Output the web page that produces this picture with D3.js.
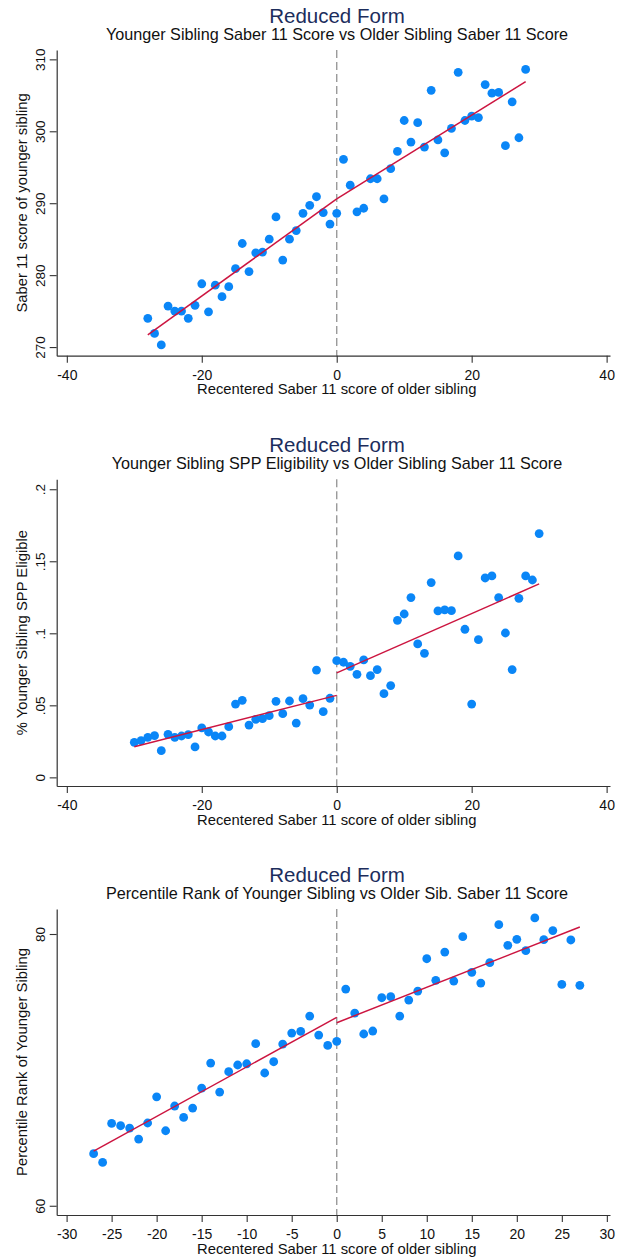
<!DOCTYPE html>
<html>
<head>
<meta charset="utf-8">
<script src="https://cdn.jsdelivr.net/npm/d3@7"></script>
<style>
  body { margin: 0; background: #fff; }
  svg { display: block; }
  text { font-family: Arial, "Liberation Sans", sans-serif; }
</style>
</head>
<body>
<svg id="chart" width="617" height="1258"></svg>
<script>
// ---- Panel 1: younger sibling Saber 11 score by recentered older-sibling score
const p1X = [-28,-27,-26,-25,-24,-23,-22,-21,-20,-19,-18,-17,-16,-15,-14,-13,-12,-11,-10,-9,-8,-7,-6,-5,-4,-3,-2,-1,
             0,1,2,3,4,5,6,7,8,9,10,11,12,13,14,15,16,17,18,19,20,21,22,23,24,25,26,27,28];
const p1Y = [274.0,271.9,270.3,275.7,275.0,275.0,274.0,275.8,278.8,274.9,278.6,277.0,278.4,280.9,284.4,280.5,283.1,283.2,285.0,288.1,282.1,285.0,286.2,288.6,289.7,290.9,288.7,287.1,
             288.6,296.1,292.5,288.8,289.3,293.4,293.4,290.6,294.8,297.2,301.5,298.5,301.2,297.8,305.7,298.8,297.0,300.4,308.2,301.5,302.1,301.9,306.5,305.3,305.4,298.0,304.1,299.1,308.6];
const p1FitLeft  = [[-28, 271.7], [0, 290.6]];
const p1FitRight = [[0, 290.6], [28, 306.9]];
const p1YTicks = [270, 280, 290, 300, 310];
const p1XTicks = [-40, -20, 0, 20, 40];

// ---- Panel 2: share of younger siblings eligible for SPP
const p2X = [-30,-29,-28,-27,-26,-25,-24,-23,-22,-21,-20,-19,-18,-17,-16,-15,-14,-13,-12,-11,-10,-9,-8,-7,-6,-5,-4,-3,-2,-1,
             0,1,2,3,4,5,6,7,8,9,10,11,12,13,14,15,16,17,18,19,20,21,22,23,24,25,26,27,28,29,30];
const p2Y = [0.0243,0.0255,0.0278,0.0289,0.0185,0.0299,0.0278,0.0287,0.0296,0.0211,0.0343,0.0315,0.0287,0.0287,0.0352,0.0509,0.0535,0.0363,0.0403,0.0407,0.0428,0.0528,0.0442,0.0530,0.0377,0.0546,0.0502,0.0745,0.0456,0.0549,
             0.0810,0.0799,0.0771,0.0715,0.0815,0.0706,0.0748,0.0581,0.0637,0.1090,0.1134,0.1248,0.0926,0.0861,0.1352,0.1155,0.1162,0.1157,0.1537,0.1028,0.0509,0.0956,0.1384,0.1398,0.1248,0.1002,0.0748,0.1243,0.1398,0.1370,0.1692];
const p2FitLeft  = [[-30, 0.0213], [0, 0.0569]];
const p2FitRight = [[0, 0.0725], [30, 0.1343]];
const p2YTicks = [0, 0.05, 0.1, 0.15, 0.2];
const p2XTicks = [-40, -20, 0, 20, 40];

// ---- Panel 3: percentile rank of younger sibling
const p3X = [-27,-26,-25,-24,-23,-22,-21,-20,-19,-18,-17,-16,-15,-14,-13,-12,-11,-10,-9,-8,-7,-6,-5,-4,-3,-2,-1,
             0,1,2,3,4,5,6,7,8,9,10,11,12,13,14,15,16,17,18,19,20,21,22,23,24,25,26,27];
const p3Y = [63.83,63.19,66.06,65.89,65.72,64.91,66.09,68.02,65.52,67.34,66.50,67.19,68.66,70.50,68.37,69.87,70.36,70.45,71.93,69.77,70.60,71.90,72.71,72.83,73.96,72.56,71.80,
             72.10,75.95,74.18,72.64,72.86,75.31,75.39,73.96,75.14,75.80,78.18,76.59,78.67,76.54,79.80,77.18,76.39,77.89,80.69,79.17,79.61,78.77,81.18,79.58,80.25,76.29,79.56,76.22];
const p3FitLeft  = [[-27, 64.02], [0, 73.87]];
const p3FitRight = [[0, 73.47], [27, 80.52]];
const p3YTicks = [60, 80];
const p3XTicks = [-30,-25,-20,-15,-10,-5,0,5,10,15,20,25,30];

const titleText = "Reduced Form";
const xTitle = "Recentered Saber 11 score of older sibling";

const panels = [
  { sub: "Younger Sibling Saber 11 Score vs Older Sibling Saber 11 Score",
    yTitle: "Saber 11 score of younger sibling",
    xs: p1X, ys: p1Y, fits: [p1FitLeft, p1FitRight], yTicks: p1YTicks, xTicks: p1XTicks,
    xDom: [-41.5, 40.5], yDom: [268.8, 311.3], top: 50, bottom: 355.7, fmt: d3.format("d") },
  { sub: "Younger Sibling SPP Eligibility vs Older Sibling Saber 11 Score",
    yTitle: "% Younger Sibling SPP Eligible",
    xs: p2X, ys: p2Y, fits: [p2FitLeft, p2FitRight], yTicks: p2YTicks, xTicks: p2XTicks,
    xDom: [-41.5, 40.5], yDom: [-0.006, 0.2069], top: 479.3, bottom: 786,
    fmt: v => v === 0 ? "0" : String(+v.toFixed(2)).replace(/^0\./, ".") },
  { sub: "Percentile Rank of Younger Sibling vs Older Sib. Saber 11 Score",
    yTitle: "Percentile Rank of Younger Sibling",
    xs: p3X, ys: p3Y, fits: [p3FitLeft, p3FitRight], yTicks: p3YTicks, xTicks: p3XTicks,
    xDom: [-31.1, 30.35], yDom: [59.32, 81.84], top: 909, bottom: 1215, fmt: d3.format("d") }
];

const left = 56.7, right = 610;
const svg = d3.select("#chart");
const axisColor = "#333";

panels.forEach(p => {
  const g = svg.append("g");
  const x = d3.scaleLinear().domain(p.xDom).range([left, right]);
  const y = d3.scaleLinear().domain(p.yDom).range([p.bottom, p.top]);

  g.append("text").attr("x", 337).attr("y", p.top - 27.3)
    .attr("text-anchor", "middle").attr("font-size", 20.5).attr("fill", "#1c2d5c")
    .text(titleText);
  g.append("text").attr("x", 337).attr("y", p.top - 10.5)
    .attr("text-anchor", "middle").attr("font-size", 16.2).attr("fill", "#111")
    .text(p.sub);

  // cutoff at zero
  g.append("line")
    .attr("x1", x(0)).attr("x2", x(0)).attr("y1", p.top).attr("y2", p.bottom)
    .attr("stroke", "#999").attr("stroke-width", 1.4).attr("stroke-dasharray", "8,4");

  // axes
  const yAxis = g.append("g").attr("transform", `translate(${left},0)`)
    .call(d3.axisLeft(y).tickValues(p.yTicks).tickFormat(p.fmt).tickSize(7).tickSizeOuter(0));
  yAxis.select(".domain").attr("stroke", axisColor).attr("stroke-width", 1.2);
  yAxis.selectAll(".tick line").attr("stroke", axisColor).attr("stroke-width", 1.1);
  yAxis.selectAll(".tick text")
    .attr("x", 0).attr("y", 0).attr("dy", null)
    .attr("text-anchor", "middle").attr("transform", "translate(-12,0) rotate(-90)")
    .attr("font-size", 13.5).attr("fill", "#111").attr("font-family", null);

  const xAxis = g.append("g").attr("transform", `translate(0,${p.bottom})`)
    .call(d3.axisBottom(x).tickValues(p.xTicks).tickFormat(d3.format("d")).tickSize(7).tickSizeOuter(0));
  xAxis.select(".domain").attr("stroke", axisColor).attr("stroke-width", 1.2);
  xAxis.selectAll(".tick line").attr("stroke", axisColor).attr("stroke-width", 1.1);
  xAxis.selectAll(".tick text")
    .attr("y", 24).attr("dy", null)
    .attr("font-size", 14).attr("fill", "#111").attr("font-family", null)
    .text(d => d < 0 ? "-" + Math.abs(d) : String(d));

  g.append("text").attr("x", x(0)).attr("y", p.bottom + 38.5)
    .attr("text-anchor", "middle").attr("font-size", 14.8).attr("fill", "#111")
    .text(xTitle);
  g.append("text")
    .attr("transform", `translate(26.5,${(p.top + p.bottom) / 2}) rotate(-90)`)
    .attr("text-anchor", "middle").attr("font-size", 14.8).attr("fill", "#111")
    .text(p.yTitle);

  // binned means
  g.append("g").selectAll("circle")
    .data(p.xs.map((v, i) => [v, p.ys[i]]))
    .join("circle")
    .attr("cx", d => x(d[0])).attr("cy", d => y(d[1])).attr("r", 4.4)
    .attr("fill", "#0a86f7");

  // linear fits on each side of the cutoff
  const line = d3.line().x(d => x(d[0])).y(d => y(d[1]));
  p.fits.forEach(seg => {
    g.append("path").attr("d", line(seg))
      .attr("fill", "none").attr("stroke", "#cc1540").attr("stroke-width", 1.5);
  });
});
</script>
</body>
</html>
